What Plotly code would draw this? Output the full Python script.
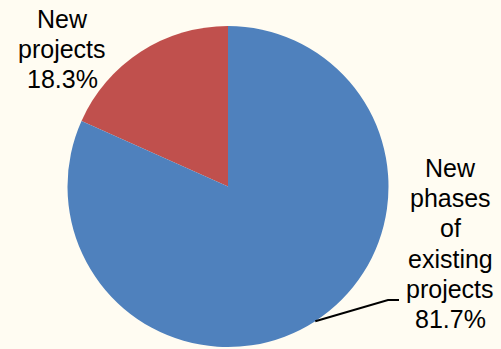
import math
import plotly.graph_objects as go

labels = ["New projects", "New phases of existing projects"]
values = [18.3, 81.7]
label_lines = [["New", "projects", "18.3%"],
               ["New", "phases", "of", "existing", "projects", "81.7%"]]
colors = ["#C0504D", "#4F81BD"]

W, H = 501, 349
cx, cy, r = 228, 186.5, 160.5  # pixel geometry (from top)

dom_x = [(cx - r) / W, (cx + r) / W]
dom_y = [(H - cy - r) / H, (H - cy + r) / H]

fig = go.Figure(go.Pie(
    labels=labels, values=values, sort=False, direction="counterclockwise",
    rotation=0, marker=dict(colors=colors, line=dict(width=0)),
    textinfo="none", hoverinfo="label+percent", showlegend=False,
    domain=dict(x=dom_x, y=dom_y),
))

FS = 25
font = dict(family="Liberation Sans, Arial, sans-serif", size=FS, color="#000000")
LS = 30.2  # line spacing in px

def add_label(lines, xc, first_baseline):
    for i, t in enumerate(lines):
        base = first_baseline + i * LS
        fig.add_annotation(x=xc / W, y=(H - (base - 9)) / H, xref="paper", yref="paper",
                           text=t, showarrow=False, font=font,
                           xanchor="center", yanchor="middle", align="center")

add_label(label_lines[0], 62, 28)
add_label(label_lines[1], 450, 177)

# leader line from the middle of the blue slice
total = sum(values)
mid_frac = (values[0] + values[1] / 2) / total
ang = 2 * math.pi * mid_frac  # counterclockwise from top
px = cx - r * math.sin(ang)
py = cy - r * math.cos(ang)
x1, y1 = 388, 300
x2 = 399
def P(x, y):
    return x / W, (H - y) / H
a, b, c = P(px, py), P(x1, y1), P(x2, y1)
fig.add_shape(type="path", xref="paper", yref="paper",
              path=f"M {a[0]} {a[1]} L {b[0]} {b[1]} L {c[0]} {c[1]}",
              line=dict(color="#000000", width=2))

fig.update_traces(direction="clockwise", rotation=-values[0] / total * 360)

fig.update_layout(
    width=W, height=H, margin=dict(l=0, r=0, t=0, b=0),
    paper_bgcolor="#FFFCF2", plot_bgcolor="#FFFCF2",
)
fig.write_html("out.html")
